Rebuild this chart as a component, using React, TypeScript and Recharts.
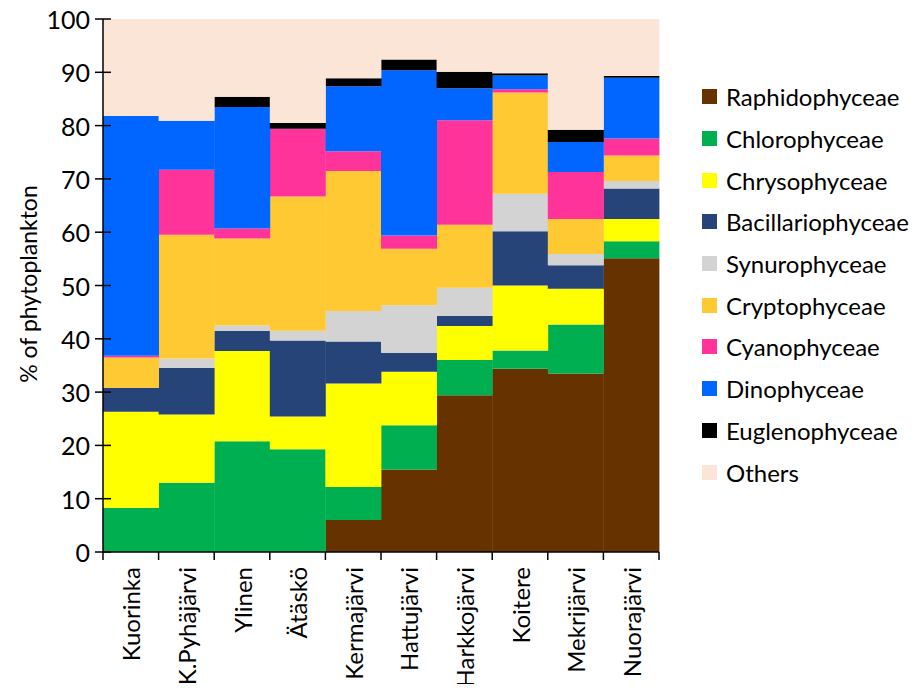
import { Bar, BarChart, XAxis, YAxis } from "recharts";

const lakes = [
  "Kuorinka",
  "K.Pyhäjärvi",
  "Ylinen",
  "Ätäskö",
  "Kermajärvi",
  "Hattujärvi",
  "Harkkojärvi",
  "Koitere",
  "Mekrijärvi",
  "Nuorajärvi",
];

const raphidophyceae = [0, 0, 0, 0, 6.0, 15.5, 29.4, 34.4, 33.5, 55.1];
const chlorophyceae = [8.3, 13.0, 20.8, 19.3, 6.2, 8.3, 6.6, 3.4, 9.2, 3.2];
const chrysophyceae = [18.0, 12.8, 16.9, 6.1, 19.4, 10.0, 6.4, 12.2, 6.7, 4.2];
const bacillariophyceae = [4.5, 8.7, 3.8, 14.3, 7.9, 3.6, 1.9, 10.2, 4.4, 5.7];
const synurophyceae = [0, 1.8, 1.0, 1.8, 5.7, 8.9, 5.3, 7.0, 2.1, 1.4];
const cryptophyceae = [5.7, 23.2, 16.3, 25.2, 26.3, 10.6, 11.8, 19.0, 6.6, 4.8];
const cyanophyceae = [0.3, 12.2, 1.9, 12.7, 3.7, 2.5, 19.6, 0.6, 8.8, 3.2];
const dinophyceae = [45.0, 9.2, 22.8, 0, 12.2, 31.0, 6.0, 2.6, 5.6, 11.4];
const euglenophyceae = [0, 0, 1.9, 1.1, 1.5, 2.0, 3.1, 0.4, 2.3, 0.3];
const others = [18.2, 19.1, 14.6, 19.5, 11.1, 7.6, 9.9, 10.2, 20.8, 10.7];

const yTicks = [0, 10, 20, 30, 40, 50, 60, 70, 80, 90, 100];

const series = [
  { key: "Raphidophyceae", values: raphidophyceae, color: "#663300" },
  { key: "Chlorophyceae", values: chlorophyceae, color: "#00B050" },
  { key: "Chrysophyceae", values: chrysophyceae, color: "#FFFF00" },
  { key: "Bacillariophyceae", values: bacillariophyceae, color: "#264478" },
  { key: "Synurophyceae", values: synurophyceae, color: "#D3D3D3" },
  { key: "Cryptophyceae", values: cryptophyceae, color: "#FFC933" },
  { key: "Cyanophyceae", values: cyanophyceae, color: "#FF3399" },
  { key: "Dinophyceae", values: dinophyceae, color: "#0066FF" },
  { key: "Euglenophyceae", values: euglenophyceae, color: "#000000" },
  { key: "Others", values: others, color: "#FBE5D6" },
];

const data = lakes.map((lake, i) => {
  const row: Record<string, string | number> = { lake };
  series.forEach((s) => (row[s.key] = s.values[i]));
  return row;
});

const FONT = "Lato, 'Open Sans', sans-serif";
const W = 917;
const H = 692;
const PLOT_LEFT = 103;
const PLOT_RIGHT = 659;
const BAND = (PLOT_RIGHT - PLOT_LEFT) / lakes.length;

function XTick(props: any) {
  const { x, y, payload, index } = props;
  const left = x - BAND / 2;
  return (
    <g>
      <line x1={left} y1={y} x2={left} y2={y + 8} stroke="#000" strokeWidth={1.5} />
      {index === lakes.length - 1 && (
        <line x1={x + BAND / 2} y1={y} x2={x + BAND / 2} y2={y + 8} stroke="#000" strokeWidth={1.5} />
      )}
      <text
        x={0}
        y={0}
        transform={`translate(${x}, ${y + 15}) rotate(-90)`}
        textAnchor="end"
        dominantBaseline="central"
        fontSize={24}
        fontFamily={FONT}
        fill="#000"
      >
        {payload.value}
      </text>
    </g>
  );
}

function YTick(props: any) {
  const { x, y, payload } = props;
  return (
    <g>
      <line x1={x - 8} y1={y} x2={x + 8} y2={y} stroke="#000" strokeWidth={1.5} />
      <text
        x={x - 13}
        y={y}
        textAnchor="end"
        dominantBaseline="central"
        fontSize={25}
        fontFamily={FONT}
        fill="#000"
      >
        {payload.value}
      </text>
    </g>
  );
}

export default function App() {
  return (
    <div style={{ position: "relative", width: W, height: H, margin: -8, background: "#fff" }}>
      <BarChart
        width={W}
        height={H}
        data={data}
        barCategoryGap={0}
        margin={{ top: 19, right: W - PLOT_RIGHT, bottom: 0, left: 0 }}
      >
        <XAxis
          dataKey="lake"
          height={140}
          interval={0}
          tickSize={0}
          tickMargin={0}
          tick={<XTick />}
          axisLine={{ stroke: "#000", strokeWidth: 1.5 }}
          tickLine={false}
        />
        <YAxis
          type="number"
          domain={[0, 100]}
          ticks={yTicks}
          width={PLOT_LEFT}
          tickSize={0}
          tickMargin={0}
          tick={<YTick />}
          axisLine={{ stroke: "#000", strokeWidth: 1.5 }}
          tickLine={false}
          interval={0}
        />
        {series.map((s) => (
          <Bar key={s.key} dataKey={s.key} stackId="a" fill={s.color} isAnimationActive={false} />
        ))}
      </BarChart>
      <div
        style={{
          position: "absolute",
          left: 28,
          top: 284,
          transform: "translate(-50%, -50%) rotate(-90deg)",
          whiteSpace: "nowrap",
          fontFamily: FONT,
          fontSize: 23,
          color: "#000",
        }}
      >
        % of phytoplankton
      </div>
      <div style={{ position: "absolute", left: 702, top: 76, fontFamily: FONT, fontSize: 24, color: "#000" }}>
        {series.map((s) => (
          <div key={s.key} style={{ display: "flex", alignItems: "center", height: 41.7 }}>
            <span style={{ width: 15, height: 15, background: s.color, marginRight: 9, display: "inline-block" }} />
            <span>{s.key}</span>
          </div>
        ))}
      </div>
    </div>
  );
}
